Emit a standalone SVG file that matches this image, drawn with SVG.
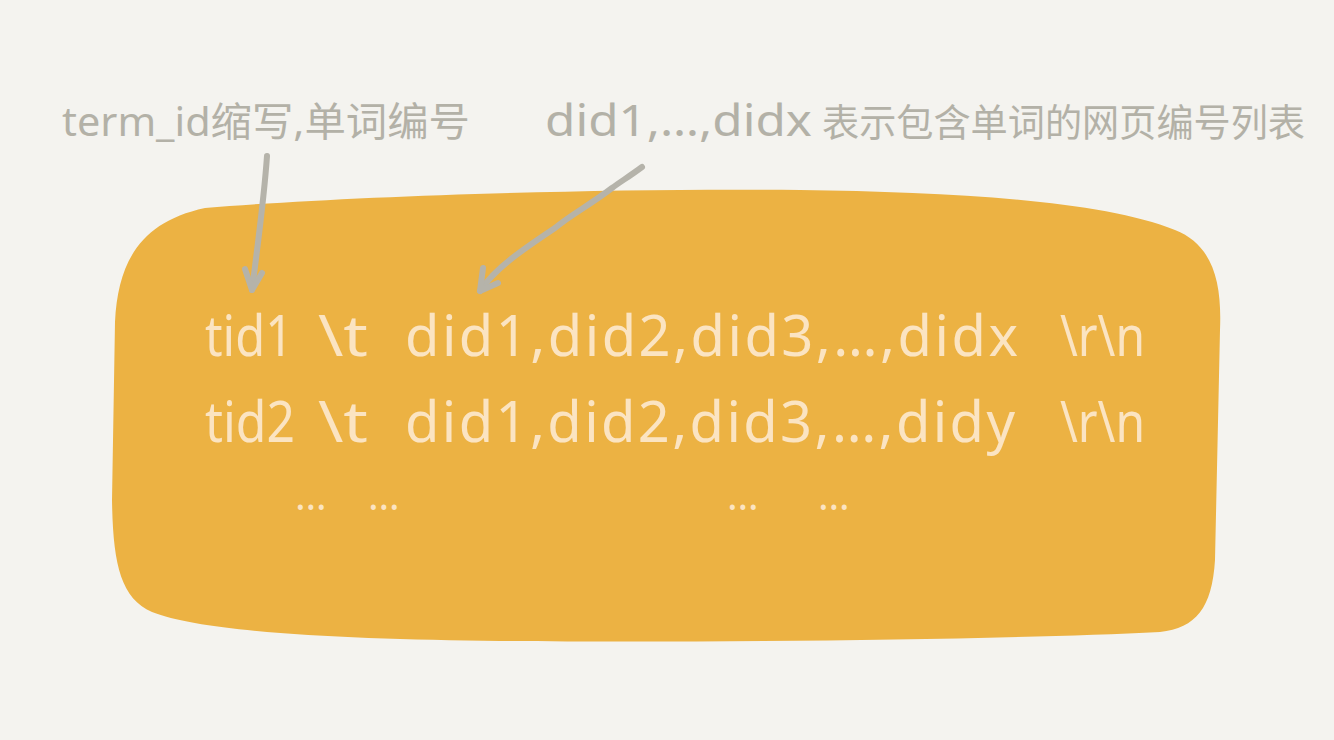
<svg xmlns="http://www.w3.org/2000/svg" width="1334" height="740" viewBox="0 0 1334 740">
  <defs>
    <style>
      .lbl { font-family: "Noto Sans", "Noto Sans CJK SC", sans-serif; font-size: 44px; fill: #b3b1a7; }
      .lblm { font-family: "Noto Sans", "Noto Sans CJK SC", sans-serif; font-size: 40px; fill: #b3b1a7; }
      .lblc { font-family: "Noto Sans CJK SC", sans-serif; font-size: 38px; fill: #b3b1a7; }
      .code { font-family: "Noto Sans", "Liberation Sans", sans-serif; font-size: 56px; fill: #fbe4c2; }
      .dots { font-family: "Noto Sans", "Liberation Sans", sans-serif; font-size: 40px; fill: #fbe4c2; }
      .conn { fill: none; stroke: #b5b3aa; stroke-width: 6; stroke-linecap: round; stroke-linejoin: round; }
    </style>
  </defs>
  <rect width="1334" height="740" fill="#f4f3ef"/>
  <g id="block">
    <path d="M 205 208 C 350 196, 600 188, 800 190 C 950 192, 1100 200, 1175 230 C 1213 245, 1222 282, 1220 330 L 1215 560 C 1212 608, 1196 628, 1160 632 C 1000 640, 700 643, 500 641 C 350 639, 205 633, 152 612 C 120 598, 113 562, 112 500 L 115 322 C 118 262, 140 222, 205 208 Z" fill="#ecb243"/>
    <g id="line1">
      <text class="code" x="205" y="356" textLength="88" lengthAdjust="spacingAndGlyphs">tid1</text>
      <text class="code" x="318" y="356" textLength="50" lengthAdjust="spacingAndGlyphs">\t</text>
      <text class="code" x="405" y="356" textLength="613" lengthAdjust="spacing">did1,did2,did3,…,didx</text>
      <text class="code" x="1060" y="356" textLength="85" lengthAdjust="spacingAndGlyphs">\r\n</text>
    </g>
    <g id="line2">
      <text class="code" x="205" y="442" textLength="90" lengthAdjust="spacingAndGlyphs">tid2</text>
      <text class="code" x="318" y="442" textLength="50" lengthAdjust="spacingAndGlyphs">\t</text>
      <text class="code" x="405" y="442" textLength="610" lengthAdjust="spacing">did1,did2,did3,…,didy</text>
      <text class="code" x="1060" y="442" textLength="85" lengthAdjust="spacingAndGlyphs">\r\n</text>
    </g>
    <g id="line3">
      <text class="dots" x="295" y="510">…</text>
      <text class="dots" x="368" y="510">…</text>
      <text class="dots" x="727" y="510">…</text>
      <text class="dots" x="818" y="510">…</text>
    </g>
  </g>
  <g id="label-term">
    <text class="lblm" x="62" y="136" textLength="408" lengthAdjust="spacingAndGlyphs">term_id缩写,单词编号</text>
  </g>
  <g id="label-did">
    <text class="lbl" x="545" y="136" textLength="267" lengthAdjust="spacingAndGlyphs">did1,…,didx</text>
    <text class="lblc" x="822" y="136" textLength="483" lengthAdjust="spacingAndGlyphs">表示包含单词的网页编号列表</text>
  </g>
  <g id="connectors">
    <path class="conn" d="M 267 156 C 264 200, 257 250, 252 290"/>
    <path class="conn" d="M 245 269 L 252 290 L 262 273"/>
    <path class="conn" d="M 642 167 C 630 176, 620 182, 612 188 C 590 205, 570 215, 555 228 C 525 248, 495 268, 480 291"/>
    <path class="conn" d="M 483 268 L 480 291 L 498 283"/>
  </g>
</svg>
